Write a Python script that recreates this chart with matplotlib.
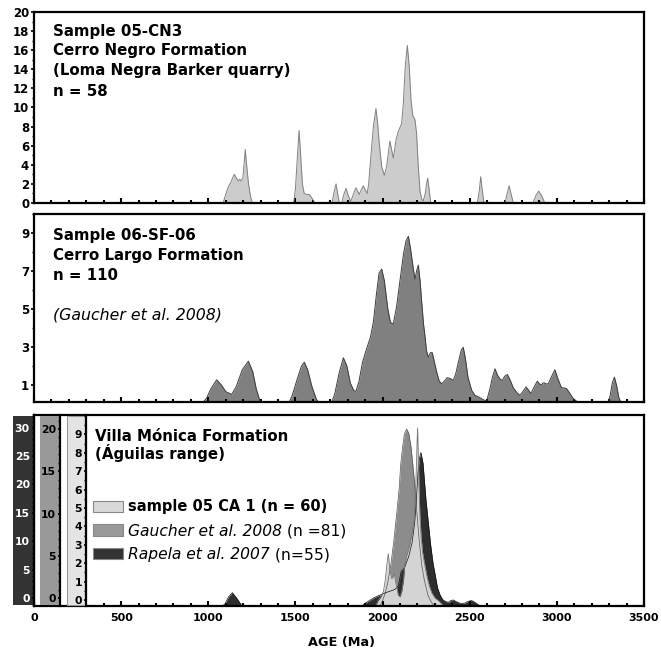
import matplotlib
matplotlib.use('Agg')
import matplotlib.pyplot as plt
from matplotlib.patches import Rectangle
from matplotlib.ticker import MultipleLocator, FixedLocator

# ---- top panel: sample 05-CN3 (relative probability) ----
cn3_age = [1085, 1100, 1115, 1130, 1149, 1162, 1172, 1180, 1188, 1198, 1205, 1212, 1220, 1230, 1242, 1253,
           1490, 1500, 1510, 1521, 1530, 1540, 1550, 1565, 1580, 1595, 1612,
           1710, 1722, 1733, 1742, 1752,
           1765, 1778, 1790, 1803, 1817, 1832, 1847, 1858, 1866, 1878, 1889, 1900, 1912, 1920, 1928,
           1947, 1962, 1972, 1981, 1995, 2010, 2023, 2042, 2056, 2062, 2077, 2090, 2109, 2119, 2130,
           2142, 2153, 2163, 2173, 2186, 2195, 2205, 2215, 2225, 2233, 2245, 2252, 2259, 2266, 2276,
           2544, 2555, 2563, 2572, 2582,
           2702, 2715, 2726, 2738, 2750,
           2862, 2880, 2896, 2914, 2931]
cn3_val = [0, 0.9, 1.7, 2.2, 3.0, 2.6, 2.3, 2.5, 2.3, 2.6, 4.0, 5.6, 4.0, 2.1, 0.7, 0,
           0, 1.5, 4.5, 7.6, 5.0, 2.0, 1.0, 0.9, 0.9, 0.5, 0,
           0, 1.2, 2.0, 1.0, 0,
           0, 0.9, 1.55, 0.8, 0.15, 0.9, 1.6, 1.2, 0.9, 1.4, 1.8, 1.4, 1.0, 2.0, 3.8,
           8.0, 9.9, 8.3, 6.25, 3.8, 2.9, 3.8, 6.5, 5.2, 4.7, 6.6, 7.5, 8.3, 10.4, 14.3,
           16.5, 14.3, 10.8, 9.2, 8.7, 7.3, 3.8, 1.2, 0.4, 0.2, 1.0, 2.0, 2.6, 1.6, 0,
           0, 1.3, 2.75, 1.3, 0,
           0, 1.0, 1.8, 0.9, 0,
           0, 0.8, 1.25, 0.7, 0]

# ---- middle panel: sample 06-SF-06 ----
sf06_age = [962, 990, 1015, 1048, 1075, 1100, 1134, 1160, 1195, 1230, 1255, 1275, 1295, 1306,
            1459, 1480, 1510, 1535, 1551, 1570, 1595, 1620, 1641,
            1704, 1725, 1750, 1775, 1795, 1815, 1835, 1847, 1865, 1885, 1908, 1930, 1947, 1965, 1980,
            1995, 2010, 2030, 2045, 2061, 2080, 2100, 2120, 2135, 2148, 2160, 2175, 2186, 2195, 2205,
            2215, 2225, 2235, 2243, 2252, 2262, 2275, 2285, 2295, 2310, 2325, 2339, 2355, 2370, 2385,
            2406, 2420, 2440, 2452, 2463, 2475, 2490, 2511, 2530, 2550, 2578, 2597, 2616, 2630, 2645,
            2660, 2675, 2687, 2700, 2716, 2730, 2750, 2770, 2788, 2805, 2823, 2840, 2851, 2870, 2888,
            2900, 2912, 2920, 2928, 2940, 2951, 2970, 2989, 3005, 3027, 3040, 3056, 3075, 3094, 3120, 3150,
            3291, 3305, 3318, 3330, 3342, 3355, 3371]
sf06_val = [0, 0.3, 0.8, 1.27, 1.0, 0.65, 0.5, 0.9, 1.8, 2.25, 1.7, 0.8, 0.2, 0,
            0, 0.4, 1.3, 2.0, 2.2, 1.8, 0.9, 0.25, 0,
            0, 0.5, 1.6, 2.43, 2.0, 1.1, 0.7, 0.66, 1.2, 2.2, 2.9, 3.5, 4.3, 5.8, 6.9,
            7.1, 6.5, 5.0, 4.3, 4.2, 5.1, 6.5, 7.9, 8.6, 8.83, 8.2, 7.2, 6.56, 7.0, 7.31,
            6.5, 5.3, 4.2, 3.6, 2.8, 2.46, 2.7, 2.7, 2.3, 1.7, 1.2, 1.06, 1.2, 1.38, 1.35,
            1.24, 1.6, 2.4, 2.85, 2.98, 2.4, 1.4, 0.72, 0.45, 0.37, 0.22, 0.15, 0.8, 1.4, 1.85,
            1.5, 1.3, 1.24, 1.45, 1.55, 1.3, 0.85, 0.6, 0.45, 0.65, 0.89, 0.7, 0.54, 0.9, 1.2,
            1.05, 1.01, 1.1, 1.11, 1.05, 1.06, 1.45, 1.8, 1.35, 0.84, 0.85, 0.8, 0.55, 0.28, 0.1, 0,
            0, 0.4, 1.1, 1.41, 1.0, 0.35, 0]

# ---- bottom panel: Villa Monica Formation ----
gau_age = [1985, 2000, 2015, 2030, 2048, 2065, 2081, 2095, 2104, 2115, 2125, 2138, 2150, 2163,
           2182, 2195, 2210, 2225, 2240, 2260, 2280, 2300]
gau_val = [0, 0.3, 0.7, 1.3, 2.3, 3.6, 5.05, 6.4, 7.75, 8.7, 9.4, 9.67, 9.45, 8.7,
           6.9, 5.3, 3.6, 2.2, 1.4, 0.6, 0.2, 0]

rap_age = [1077, 1095, 1116, 1138, 1164, 1190, 1211,
           1880, 1900, 1925, 1950, 1985, 2010, 2040, 2070, 2090, 2107, 2119, 2130, 2150, 2170, 2185,
           2195, 2205, 2212, 2220, 2232, 2249, 2262, 2275, 2290, 2300, 2315, 2330, 2345, 2360, 2377, 2392,
           2406, 2420, 2444, 2470, 2490, 2511, 2530, 2560]
rap_val = [0, 0.1, 0.5, 0.73, 0.42, 0.05, 0,
           0, 0.15, 0.3, 0.45, 0.6, 0.7, 0.8, 0.9, 1.1, 1.9, 2.0, 2.2, 2.7, 3.5, 4.6,
           6.0, 7.5, 8.1, 8.39, 7.8, 5.8, 4.6, 3.4, 2.3, 1.8, 1.0, 0.6, 0.35, 0.25, 0.2, 0.3,
           0.33, 0.25, 0.15, 0.15, 0.25, 0.3, 0.2, 0]

ca1_age = [1960, 1975, 1990, 2005, 2015, 2025, 2033, 2042, 2052, 2060, 2067, 2077, 2090, 2100,
           2110, 2120, 2128, 2140, 2155, 2170, 2183, 2192, 2198, 2201, 2205, 2209, 2214, 2221, 2230,
           2243, 2255, 2268, 2281, 2300, 2320, 2340, 2355]
ca1_val = [0, 0.3, 0.5, 0.8, 1.4, 2.3, 2.86, 2.0, 1.5, 1.6, 1.76, 1.2, 0.6, 0.5,
           0.8, 1.4, 2.3, 2.8, 3.3, 4.0, 5.0, 7.0, 9.0, 9.73, 8.3, 6.5, 5.0, 3.8, 2.9,
           2.2, 1.6, 1.1, 0.75, 0.45, 0.3, 0.1, 0]

W, H = 661, 648


def fx(px):
    return px / W


def fy(py):
    return 1 - py / H


plt.rcParams['font.family'] = ['DejaVu Sans']
plt.rcParams['font.weight'] = 'bold'

fig = plt.figure(figsize=(W / 100, H / 100), dpi=100)


def make_panel(top, bottom):
    ax = fig.add_axes([fx(34), fy(bottom), fx(644) - fx(34), (bottom - top) / H])
    for s in ax.spines.values():
        s.set_linewidth(1.6)
    ax.set_xlim(0, 3500)
    ax.xaxis.set_major_locator(MultipleLocator(500))
    ax.xaxis.set_minor_locator(MultipleLocator(100))
    ax.tick_params(axis='x', which='major', direction='in', length=3.5, width=1.5, labelsize=8, pad=5)
    ax.tick_params(axis='x', which='minor', direction='in', length=2, width=1.5)
    ax.tick_params(axis='y', which='major', direction='out', length=2.5, width=1.2, labelsize=8.5, pad=1)
    ax.tick_params(axis='y', which='minor', direction='out', length=1.5, width=1.0)
    return ax


def label_lines(x, baselines, lines, size=10.8, style='normal', weight='bold'):
    for b, s in zip(baselines, lines):
        fig.text(fx(x), fy(b), s, fontsize=size, fontweight=weight, fontstyle=style, va='baseline')


# top panel
ax1 = make_panel(12, 203)
ax1.set_ylim(0, 20)
ax1.yaxis.set_major_locator(MultipleLocator(2))
ax1.yaxis.set_minor_locator(MultipleLocator(1))
ax1.fill_between(cn3_age, cn3_val, color='#cccccc', lw=0)
ax1.plot(cn3_age, cn3_val, color='#808080', lw=0.7)
ax1.tick_params(axis='x', labelbottom=False)
label_lines(52.7, [36, 55.5, 75, 96],
            ['Sample 05-CN3', 'Cerro Negro Formation', '(Loma Negra Barker quarry)', 'n = 58'])

# middle panel
ax2 = make_panel(214, 402)
ax2.set_ylim(0.1, 10)
ax2.yaxis.set_major_locator(FixedLocator([1, 3, 5, 7, 9]))
ax2.yaxis.set_minor_locator(MultipleLocator(1))
ax2.fill_between(sf06_age, sf06_val, color='#808080', lw=0)
ax2.plot(sf06_age, sf06_val, color='#3c3c3c', lw=0.7)
ax2.tick_params(axis='x', labelbottom=False)
label_lines(52.7, [240, 260, 280.5], ['Sample 06-SF-06', 'Cerro Largo Formation', 'n = 110'])
label_lines(52.7, [320], ['(Gaucher et al. 2008)'], size=11.3, style='italic', weight='normal')

# bottom panel
ax3 = make_panel(415, 606)
ax3.set_ylim(0, 10.44)
ax3.set_yticks([])
ax3.fill_between(gau_age, gau_val, color='#8c8c8c', lw=0)
ax3.plot(gau_age, gau_val, color='#555555', lw=0.5)
ax3.fill_between(rap_age, rap_val, color='#2e2e2e', lw=0)
ax3.plot(rap_age, rap_val, color='#111111', lw=0.5)
ax3.fill_between(ca1_age, ca1_val, color='#d4d4d4', lw=0)
ax3.plot(ca1_age, ca1_val, color='#777777', lw=0.6)
ax3.set_xticks([0, 500, 1000, 1500, 2000, 2500, 3000, 3500])
fig.text(fx(342), fy(645.7), 'AGE (Ma)', fontsize=9.3, fontweight='bold', ha='center', va='baseline')
label_lines(95, [441, 459.5], ['Villa Mónica Formation', '(Águilas range)'])


# left scale strips for the three curves of the bottom panel
def strip_axis(xline, x0, color, lo, hi, ticks, minor, labcolor, edge='none'):
    fig.add_artist(Rectangle((fx(x0), fy(605)), fx(xline) - fx(x0), (605 - 416) / H,
                             transform=fig.transFigure, facecolor=color, edgecolor=edge,
                             lw=0.8, zorder=1))
    sa = fig.add_axes([fx(xline), fy(606), 0.0004, (606 - 415) / H])
    sa.set_zorder(3)
    sa.patch.set_visible(False)
    for k in ['top', 'bottom', 'right']:
        sa.spines[k].set_visible(False)
    sa.spines['left'].set_linewidth(1.6)
    sa.set_xticks([])
    sa.set_ylim(lo, hi)
    sa.yaxis.set_major_locator(FixedLocator(ticks))
    sa.yaxis.set_minor_locator(MultipleLocator(minor))
    sa.tick_params(axis='y', which='major', direction='out', length=1.5, width=1.2,
                   labelsize=7.8, pad=1.5, labelcolor=labcolor)
    sa.tick_params(axis='y', which='minor', direction='out', length=1.2, width=1.0)
    return sa


strip_axis(34, 13, '#333333', -1.35, 32.2, [0, 5, 10, 15, 20, 25, 30], 1, 'white')
strip_axis(60, 40, '#999999', -0.91, 21.65, [0, 5, 10, 15, 20], 1, 'black')
strip_axis(86, 67, '#e4e4e4', -0.33, 10.05, list(range(10)), 0.5, 'black', edge='#999999')

# legend drawn by hand (mixed fonts)
for y0, y1, c in [(501, 512.3, '#d9d9d9'), (524, 536, '#999999'), (547.7, 559.3, '#333333')]:
    fig.add_artist(Rectangle((fx(92.7), fy(y1)), fx(123.3) - fx(92.7), (y1 - y0) / H,
                             transform=fig.transFigure, facecolor=c, edgecolor='#888888',
                             lw=0.8, zorder=2))
fig.text(fx(128.3), fy(511), 'sample 05 CA 1 (n = 60)', fontsize=10.5, fontweight='bold', va='baseline')
t1 = fig.text(fx(128.3), fy(536), 'Gaucher et al. 2008', fontsize=11.2, fontweight='normal',
              fontstyle='italic', va='baseline')
a1 = ax3.annotate(' (n =81)', xy=(1, 0), xycoords=t1, fontsize=11.2, fontweight='normal', va='bottom')
t2 = fig.text(fx(128.3), fy(559.3), 'Rapela et al. 2007', fontsize=11.2, fontweight='normal',
              fontstyle='italic', va='baseline')
a2 = ax3.annotate(' (n=55)', xy=(1, 0), xycoords=t2, fontsize=11.2, fontweight='normal', va='bottom')
a1.set_annotation_clip(False)
a2.set_annotation_clip(False)

fig.savefig('out.png', dpi=100)
